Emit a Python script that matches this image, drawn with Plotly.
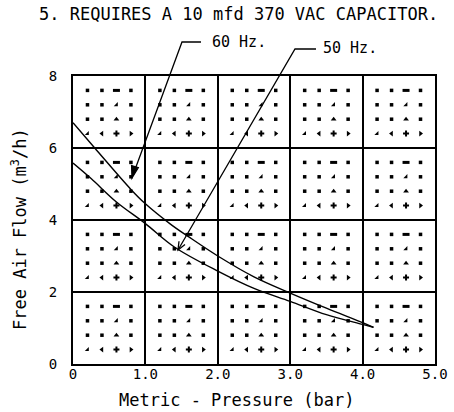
import plotly.graph_objects as go

# ---- data ----
pressure_60 = [0, 0.3, 0.8, 1.0, 1.35, 1.6, 2.0, 2.5, 3.0, 3.5, 4.0, 4.15]
flow_60 = [6.7, 6.0, 4.85, 4.45, 3.88, 3.53, 3.0, 2.42, 1.97, 1.55, 1.15, 1.02]
pressure_50 = [0, 0.25, 0.6, 1.0, 1.4, 2.0, 2.5, 3.0, 3.5, 4.0, 4.15]
flow_50 = [5.58, 5.15, 4.5, 3.9, 3.25, 2.58, 2.1, 1.74, 1.37, 1.1, 1.02]

x_ticks = [0, 1, 2, 3, 4, 5]
x_tick_labels = ["0", "1.0", "2.0", "3.0", "4.0", "5.0"]
y_ticks = [0, 2, 4, 6, 8]
y_tick_labels = ["0", "2", "4", "6", "8"]

title_text = "5. REQUIRES A 10 mfd 370 VAC CAPACITOR."
x_title = "Metric - Pressure (bar)"
y_title = "Free Air Flow (m<sup>3</sup>/h)"

# decorative 4x4 marker pattern inside every grid cell (fractions of a cell)
cell_cols = [0, 1, 2, 3, 4]
cell_rows = [0, 2, 4, 6]
pattern_fx = [0.2, 0.4, 0.6, 0.8]
pattern_fy = [0.8, 0.6, 0.4, 0.2]   # top row first
pattern_symbols = [
    ["square", "square", "line-ew", "square"],
    ["square", "square", "triangle-se", "square"],
    ["square", "square", "triangle-up", "square"],
    ["triangle-se", "triangle-left", "cross", "triangle-right"],
]

FONT = "DejaVu Sans Mono"

fig = go.Figure()

groups = {}
for cx in cell_cols:
    for cy in cell_rows:
        for r, fy in enumerate(pattern_fy):
            for c, fx in enumerate(pattern_fx):
                s = pattern_symbols[r][c]
                groups.setdefault(s, ([], []))
                groups[s][0].append(cx + fx)
                groups[s][1].append(cy + 2 * fy)

sizes = {"square": 3.5, "line-ew": 5, "triangle-se": 4.5, "triangle-up": 5,
         "triangle-left": 5, "triangle-right": 5, "cross": 5}
for s, (xs, ys) in groups.items():
    fig.add_trace(go.Scatter(
        x=xs, y=ys, mode="markers", hoverinfo="skip", showlegend=False,
        marker=dict(symbol=s, size=sizes[s], color="black",
                    line=dict(color="black", width=3 if s == "line-ew" else 0)),
    ))

fig.add_trace(go.Scatter(x=pressure_60, y=flow_60, mode="lines", showlegend=False,
                         line=dict(color="black", width=1.4, shape="spline")))
fig.add_trace(go.Scatter(x=pressure_50, y=flow_50, mode="lines", showlegend=False,
                         line=dict(color="black", width=1.4, shape="spline")))

axis_common = dict(showgrid=True, gridcolor="black", gridwidth=1.5,
                   showline=True, linecolor="black", linewidth=2, mirror=True,
                   zeroline=False, ticks="", ticklen=0, automargin=False,
                   tickfont=dict(family=FONT, size=14, color="black"))

fig.update_xaxes(range=[0, 5], tickvals=x_ticks, ticktext=x_tick_labels,
                 ticklabelstandoff=-4, **axis_common)
fig.update_yaxes(range=[0, 8], tickvals=y_ticks, ticktext=y_tick_labels,
                 ticklabelstandoff=11, **axis_common)

L, R, T, B = 73, 435, 76, 364
def px(x):
    return (x - L) / (R - L)
def py(y):
    return (B - y) / (B - T)
def pt(x, y):
    return f"{px(x):.5f},{py(y):.5f}"

def label(text, x, y, size, xanchor="center", angle=0):
    return dict(text=text, x=px(x), y=py(y), xref="paper", yref="paper",
                xanchor=xanchor, yanchor="middle", textangle=angle,
                showarrow=False, font=dict(family=FONT, size=size, color="black"))

annotations = [
    label(title_text, 238, 14, 17),
    label(x_title, 236, 400, 17),
    label(y_title, 19, 229, 17, angle=-90),
    label("60 Hz.", 210, 42, 15, xanchor="left"),
    label("50 Hz.", 321, 48, 15, xanchor="left"),
]

lw = dict(color="black", width=1.3)
shapes = [
    # 60 Hz leader
    dict(type="path", xref="paper", yref="paper",
         path=f"M{pt(201, 42)} L{pt(182, 42)} L{pt(133, 175)}", line=lw),
    dict(type="path", xref="paper", yref="paper",
         path=f"M{pt(132, 178)} L{pt(138.3, 167.6)} L{pt(131.6, 165.6)} Z",
         line=lw, fillcolor="black"),
    # 50 Hz leader
    dict(type="path", xref="paper", yref="paper",
         path=f"M{pt(316, 49)} L{pt(295, 49)} L{pt(178, 250)}", line=lw),
    dict(type="path", xref="paper", yref="paper",
         path=f"M{pt(185, 244.6)} L{pt(178, 250)} L{pt(179, 241.2)}", line=lw),
]

fig.update_layout(
    width=454, height=412,
    margin=dict(l=L, r=454 - R, t=T, b=412 - B, autoexpand=False),
    paper_bgcolor="white", plot_bgcolor="white",
    annotations=annotations, shapes=shapes,
)

fig.write_html("out.html", config={"displayModeBar": False},
               post_script="document.body.style.margin='0';document.body.style.overflow='hidden';")
